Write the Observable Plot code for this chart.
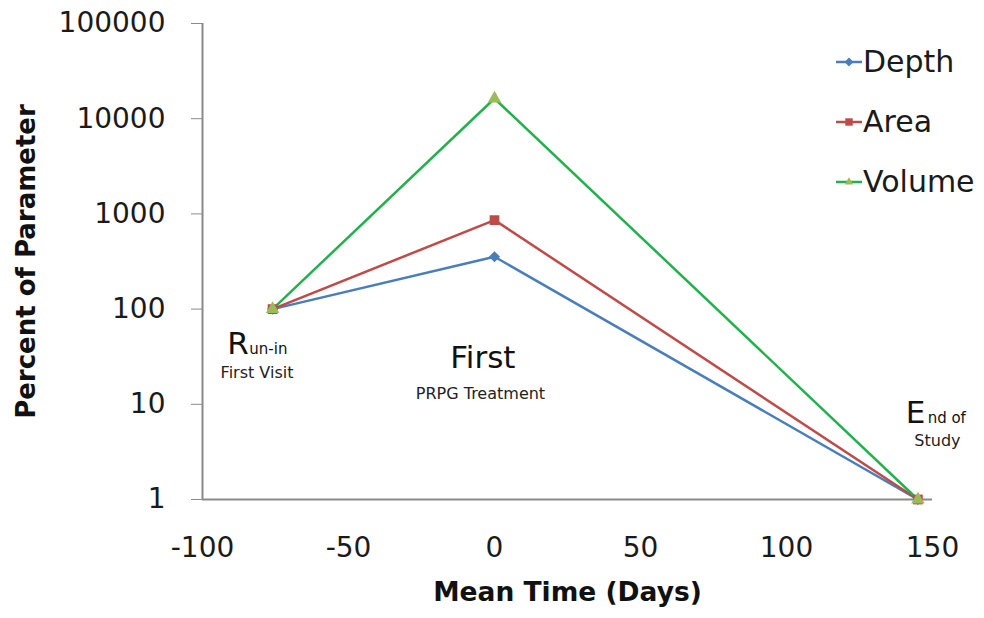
<!DOCTYPE html>
<html>
<head>
<meta charset="utf-8">
<script src="https://cdn.jsdelivr.net/npm/d3@7"></script>
<script src="https://cdn.jsdelivr.net/npm/@observablehq/plot@0.6"></script>
<style>
  html, body { margin: 0; padding: 0; background: #fff; }
  #wrap { position: relative; width: 984px; height: 618px; font-family: "DejaVu Sans", sans-serif; }
  .leg { position: absolute; left: 836px; font-size: 30px; color: #1a1a1a; display: flex; align-items: center; line-height: 1; }
  .leg svg { margin-right: 1px; }
</style>
</head>
<body>
<div id="wrap"></div>
<script>
// ---- data ----
const days = [-76, 0, 145];
const depth = [100, 355, 1];
const area = [100, 860, 1];
const volume = [100, 16300, 1];
const seriesNames = ["Depth", "Area", "Volume"];
const seriesColors = ["#4a7ebb", "#be4b48", "#22b14c"];
const markerColors = ["#4a7ebb", "#be4b48", "#9bbb59"];
const markerSymbols = ["diamond2", "square", "triangle"];
const xTicks = [-100, -50, 0, 50, 100, 150];
const yTicks = [1, 10, 100, 1000, 10000, 100000];

// annotation labels (positions in data units)
const bigLabels = [
  {day: -91.5, value: 34, text: "R", anchor: "start"},
  {day: -4, value: 23.8, text: "First", anchor: "middle"},
  {day: 140.8, value: 6.4, text: "E", anchor: "start"}
];
const smallLabels = [
  {day: -91.5, value: 34, text: "un-in", dx: 22},
  {day: 140.8, value: 6.4, text: "nd of", dx: 22}
];
const subLabels = [
  {day: -93.8, value: 19.1, text: "First Visit", anchor: "start"},
  {day: -4.8, value: 11.5, text: "PRPG Treatment", anchor: "middle"},
  {day: 151.7, value: 3.69, text: "Study", anchor: "middle"}
];

const rows = [];
[depth, area, volume].forEach((vals, i) => {
  days.forEach((d, j) => rows.push({series: seriesNames[i], day: d, value: vals[j]}));
});

const chart = Plot.plot({
  width: 984,
  height: 618,
  marginLeft: 202,
  marginRight: 52,
  marginTop: 23,
  marginBottom: 119,
  style: {fontFamily: "DejaVu Sans, sans-serif", background: "#fff"},
  x: {domain: [-100, 150]},
  y: {type: "log", domain: [1, 100000]},
  color: {domain: seriesNames, range: seriesColors},
  marks: [
    Plot.axisY({ticks: yTicks, tickFormat: d => String(d), tickSize: 11, tickPadding: 26,
      fontSize: 28, stroke: "#8a8a8a", label: null, fill: "#1a1a1a"}),
    Plot.axisX({ticks: xTicks, tickFormat: d => String(d), tickSize: 0, tickPadding: 38,
      fontSize: 28, label: null, fill: "#1a1a1a"}),
    Plot.ruleX([-100], {stroke: "#8a8a8a", strokeWidth: 2}),
    Plot.ruleY([1], {stroke: "#8a8a8a", strokeWidth: 2}),
    Plot.line(rows, {x: "day", y: "value", z: "series", stroke: "series", strokeWidth: 2.5}),
    ...seriesNames.map((s, i) => Plot.dot(rows.filter(r => r.series === s), {
      x: "day", y: "value", symbol: markerSymbols[i], fill: markerColors[i], stroke: "none",
      r: i === 1 ? 5.5 : 5
    })),
    Plot.text(bigLabels, {x: "day", y: "value", text: "text",
      fontSize: 31, fill: "#111", lineAnchor: "bottom"}),
    Plot.text(smallLabels, {x: "day", y: "value", text: "text", textAnchor: "start",
      fontSize: 15, fill: "#111", lineAnchor: "bottom"}),
    Plot.text(subLabels, {x: "day", y: "value", text: "text",
      fontSize: 16, fill: "#222", lineAnchor: "bottom"}),
    Plot.text(["Percent of Parameter"], {frameAnchor: "left", textAnchor: "middle", rotate: -90, dx: -176,
      fontSize: 26, fontWeight: "bold", fill: "#111"}),
    Plot.text(["Mean Time (Days)"], {frameAnchor: "bottom", dy: 101,
      fontSize: 26.5, fontWeight: "bold", fill: "#111"})
  ]
});
// set per-label anchors and small-label offsets after render
const texts = chart.querySelectorAll("g[aria-label='text']");
const setAnchors = (g, arr) => { g.querySelectorAll("text").forEach((t, i) => t.setAttribute("text-anchor", arr[i].anchor)); };
setAnchors(texts[0], bigLabels);
texts[1].querySelectorAll("text").forEach((t, i) => t.setAttribute("dx", smallLabels[i].dx));
setAnchors(texts[2], subLabels);

const wrap = document.getElementById("wrap");
wrap.appendChild(chart);

// legend
const legendTops = [62, 122, 182];
seriesNames.forEach((s, i) => {
  const div = document.createElement("div");
  div.className = "leg";
  div.style.top = (legendTops[i] - 18) + "px";
  const sym = d3.symbol(i === 0 ? d3.symbolDiamond2 : i === 1 ? d3.symbolSquare2 : d3.symbolTriangle2, i === 1 ? 70 : 50)();
  div.innerHTML = `<svg width="26" height="36" viewBox="0 0 26 36"><line x1="0" x2="26" y1="18" y2="18" stroke="${seriesColors[i]}" stroke-width="2.5"/><path d="${sym}" transform="translate(13,18)" fill="${markerColors[i]}"/></svg><span>${s}</span>`;
  wrap.appendChild(div);
});
</script>
</body>
</html>
